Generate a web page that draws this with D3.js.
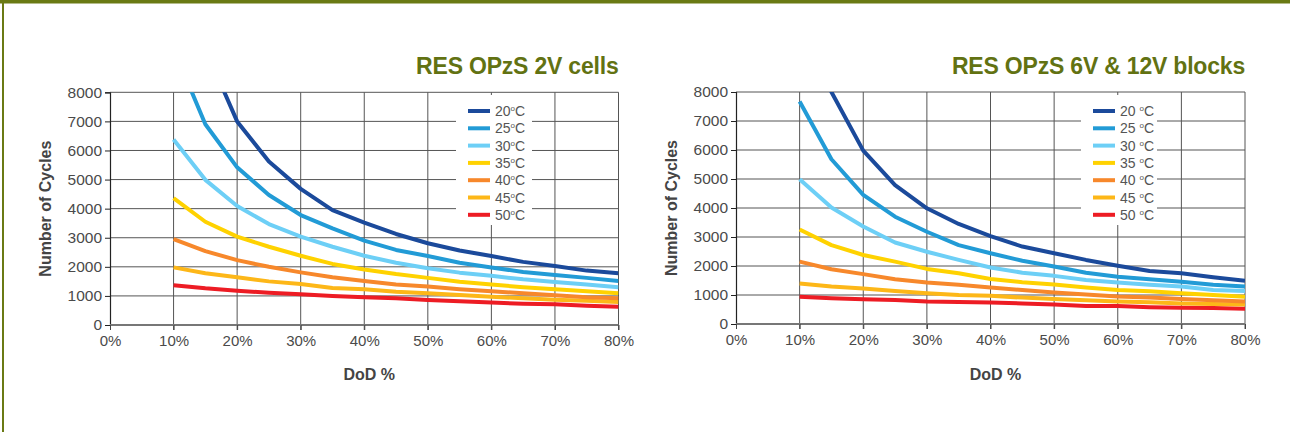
<!DOCTYPE html>
<html>
<head>
<meta charset="utf-8">
<script src="https://cdn.jsdelivr.net/npm/d3@7"></script>
<style>
  html, body { margin: 0; padding: 0; background: #fff; }
  svg { display: block; }
</style>
</head>
<body>
<svg id="chart" width="1290" height="432"></svg>
<script>
// ---------- data ----------
const dod = [10, 15, 20, 25, 30, 35, 40, 45, 50, 55, 60, 65, 70, 75, 80];
const xTicks = [0, 10, 20, 30, 40, 50, 60, 70, 80];
const yTicks = [0, 1000, 2000, 3000, 4000, 5000, 6000, 7000, 8000];
const temps = ["20", "25", "30", "35", "40", "45", "50"];

// RES OPzS 2V cells
const cells20 = [13500, 9500, 7000, 5620, 4680, 3950, 3520, 3130, 2810, 2560, 2370, 2170, 2030, 1870, 1780];
const cells25 = [9500, 6900, 5420, 4470, 3780, 3320, 2900, 2580, 2370, 2140, 1980, 1820, 1720, 1620, 1510];
const cells30 = [6380, 4990, 4090, 3470, 3040, 2690, 2380, 2140, 1950, 1800, 1690, 1570, 1480, 1390, 1300];
const cells35 = [4360, 3550, 3040, 2690, 2380, 2100, 1910, 1750, 1620, 1490, 1390, 1300, 1230, 1160, 1090];
const cells40 = [2950, 2540, 2230, 2000, 1810, 1640, 1510, 1390, 1320, 1230, 1160, 1090, 1020, 950, 920];
const cells45 = [1980, 1780, 1640, 1500, 1410, 1270, 1230, 1140, 1090, 1030, 970, 920, 870, 830, 790];
const cells50 = [1370, 1260, 1180, 1110, 1060, 1000, 950, 920, 860, 820, 770, 730, 710, 660, 630];

// RES OPzS 6V & 12V blocks
const blocks20 = [11000, 8000, 5980, 4790, 3990, 3450, 3030, 2670, 2440, 2210, 2010, 1830, 1750, 1610, 1490];
const blocks25 = [7670, 5680, 4450, 3700, 3180, 2720, 2440, 2180, 1980, 1770, 1630, 1540, 1460, 1350, 1290];
const blocks30 = [4990, 4020, 3360, 2810, 2490, 2210, 1950, 1770, 1660, 1520, 1430, 1350, 1290, 1170, 1140];
const blocks35 = [3260, 2720, 2380, 2150, 1900, 1750, 1550, 1440, 1360, 1260, 1170, 1130, 1060, 1000, 940];
const blocks40 = [2150, 1890, 1720, 1540, 1430, 1350, 1260, 1170, 1090, 1020, 950, 910, 860, 820, 780];
const blocks45 = [1400, 1290, 1220, 1140, 1060, 1000, 970, 910, 860, 820, 780, 750, 710, 690, 670];
const blocks50 = [940, 890, 850, 830, 780, 760, 740, 710, 670, 620, 620, 580, 560, 550, 530];

const colors = ["#1b4a9b", "#229bd6", "#6dcff6", "#ffd200", "#f7882b", "#fdb718", "#ed1c24"];

const charts = [
  { title: "RES OPzS 2V cells", sep: "", series: [cells20, cells25, cells30, cells35, cells40, cells45, cells50],
    x0: 110, x1: 618.5, y0: 325, y1: 92.3, legendX: 456 },
  { title: "RES OPzS 6V & 12V blocks", sep: " ", series: [blocks20, blocks25, blocks30, blocks35, blocks40, blocks45, blocks50],
    x0: 736, x1: 1245, y0: 324, y1: 92, legendX: 1081 }
];

const svg = d3.select("#chart");
const olive = "#6a7a14";

// frame
svg.append("rect").attr("x", 0).attr("y", 0).attr("width", 1290).attr("height", 3.5).attr("fill", olive);
svg.append("rect").attr("x", 2).attr("y", 0).attr("width", 2).attr("height", 432).attr("fill", olive);

const font = "'Liberation Sans', Arial, Helvetica, sans-serif";

charts.forEach((c, ci) => {
  const x = d3.scaleLinear().domain([0, 80]).range([c.x0, c.x1]);
  const y = d3.scaleLinear().domain([0, 8000]).range([c.y0, c.y1]);
  const g = svg.append("g");

  // clip
  const clipId = "clip" + ci;
  svg.append("clipPath").attr("id", clipId).append("rect")
    .attr("x", c.x0).attr("y", c.y1).attr("width", c.x1 - c.x0).attr("height", c.y0 - c.y1 + 4);

  // horizontal gridlines
  g.append("g").selectAll("line").data(yTicks.filter(d => d > 0)).join("line")
    .attr("x1", c.x0).attr("x2", c.x1)
    .attr("y1", d => y(d)).attr("y2", d => y(d))
    .attr("stroke", "#555").attr("stroke-width", 1);
  // vertical gridlines
  g.append("g").selectAll("line").data(xTicks.filter(d => d > 0)).join("line")
    .attr("x1", d => x(d)).attr("x2", d => x(d))
    .attr("y1", c.y1).attr("y2", c.y0 + 5)
    .attr("stroke", "#555").attr("stroke-width", 1);

  // y axis
  const yAxis = d3.axisLeft(y).tickValues(yTicks).tickSize(5).tickPadding(3).tickFormat(d3.format("d"));
  const ya = g.append("g").attr("transform", `translate(${c.x0},0)`).call(yAxis);
  ya.select(".domain").attr("stroke", "#222").attr("stroke-width", 1.2);
  ya.selectAll(".tick line").attr("stroke", "#222");
  ya.selectAll("text").attr("font-family", font).attr("font-size", 15.5).attr("fill", "#4a4a4a");

  // x axis
  const xAxis = d3.axisBottom(x).tickValues(xTicks).tickSize(5).tickPadding(5).tickFormat(d => d + "%");
  const xa = g.append("g").attr("transform", `translate(0,${c.y0})`).call(xAxis);
  xa.select(".domain").attr("stroke", "#777").attr("stroke-width", 2).attr("d", `M${c.x0},0H${c.x1}`);
  xa.selectAll(".tick line").attr("stroke", "#444");
  xa.selectAll("text").attr("font-family", font).attr("font-size", 15).attr("fill", "#4a4a4a");

  // legend background
  const lg = g.append("g");
  lg.append("rect").attr("x", c.legendX).attr("y", 95).attr("width", 76).attr("height", 130).attr("fill", "#fff");

  // lines
  const line = d3.line().x((d, i) => x(dod[i])).y(d => y(d));
  g.append("g").attr("clip-path", `url(#${clipId})`)
    .selectAll("path").data(c.series.slice().reverse()).join("path")
    .attr("d", line)
    .attr("fill", "none")
    .attr("stroke", (d, i) => colors[colors.length - 1 - i])
    .attr("stroke-width", 4)
    .attr("stroke-linejoin", "round");

  // legend items
  temps.forEach((t, i) => {
    const ly = 111 + i * 17.3;
    lg.append("line").attr("x1", c.legendX + 12).attr("x2", c.legendX + 34)
      .attr("y1", ly).attr("y2", ly).attr("stroke", colors[i]).attr("stroke-width", 4);
    const txt = lg.append("text").attr("x", c.legendX + 39).attr("y", ly + 5)
      .attr("font-family", font).attr("font-size", 14).attr("fill", "#555");
    txt.append("tspan").text(t + c.sep);
    txt.append("tspan").text("o").attr("font-size", 8).attr("dy", -5);
    txt.append("tspan").text("C").attr("dy", 5);
  });

  // title
  g.append("text").attr("x", c.x1).attr("y", 74).attr("text-anchor", "end")
    .attr("font-family", font).attr("font-weight", "bold").attr("font-size", 23)
    .attr("letter-spacing", -0.2).attr("fill", "#627212").text(c.title);

  // axis titles
  g.append("text").attr("x", (c.x0 + c.x1) / 2 + 5).attr("y", 380).attr("text-anchor", "middle")
    .attr("font-family", font).attr("font-weight", "bold").attr("font-size", 16).attr("fill", "#444").text("DoD %");
  g.append("text").attr("transform", `translate(${c.x0 - 59},${(c.y0 + c.y1) / 2}) rotate(-90)`)
    .attr("text-anchor", "middle")
    .attr("font-family", font).attr("font-weight", "bold").attr("font-size", 16).attr("fill", "#444").text("Number of Cycles");
});
</script>
</body>
</html>
